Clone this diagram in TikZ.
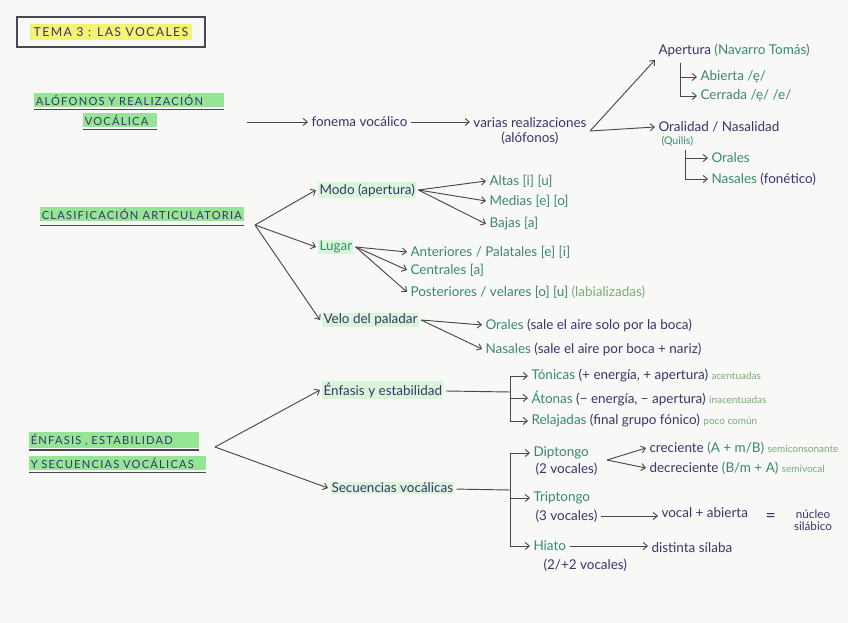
\documentclass[tikz,border=0pt]{standalone}
\usepackage{fontspec}
\setmainfont{Lato}
\newfontfamily\capsfont[LetterSpace=11]{Lato}
\usepackage{xcolor}
\usetikzlibrary{arrows.meta, positioning}
\definecolor{ink}{RGB}{58,52,108}
\definecolor{leaf}{RGB}{58,138,108}
\definecolor{pale}{RGB}{120,172,118}
\definecolor{marker}{RGB}{150,228,150}
\definecolor{lemon}{RGB}{246,242,118}
\definecolor{paper}{RGB}{248,248,246}
\definecolor{pen}{RGB}{72,72,80}
\newcommand{\note}[1]{{\color{pale}\fontsize{8.5}{10}\selectfont #1}}
\newcommand{\lf}[1]{{\color{leaf}#1}}

\begin{document}
\begin{tikzpicture}[x=0.03cm, y=-0.03cm,
      every node/.style={font=\fontsize{11.5}{13}\selectfont, text=ink, inner sep=1pt, outer sep=2pt},
      head/.style={fill=marker, font=\capsfont\fontsize{9.5}{11}\selectfont, inner sep=1.5pt, outer sep=0pt, anchor=west},
      t/.style={anchor=west},
      g/.style={anchor=west, text=leaf},
      soft/.style={fill=marker!35},
      arr/.style={draw=pen, line width=0.8pt, -{Straight Barb[length=3.5pt, width=6pt]}},
      ln/.style={draw=pen, line width=0.8pt},
      uline/.style={draw=pen, line width=1pt}]
    \fill[paper] (0,0) rectangle (848,623);
    \useasboundingbox (0,0) rectangle (848,623);

    \node[draw=pen, line width=1.2pt, minimum width=5.64cm, minimum height=0.9cm, anchor=north west, outer sep=0pt]
      (tema) at (17,17) {\colorbox{lemon}{\capsfont\fontsize{10.5}{12}\selectfont TEMA 3 : LAS VOCALES}};

    \node[head, text width=5.6cm, align=left] (alo1) at (34,100) {ALÓFONOS Y REALIZACIÓN};
    \node[head, text width=2.1cm, align=left] (alo2) at (83,120) {VOCÁLICA};
    \draw[uline] ([yshift=-2pt]alo1.south west) -- ([yshift=-2pt]alo1.south east);
    \draw[uline] ([yshift=-2pt]alo2.south west) -- ([yshift=-2pt]alo2.south east);
    \coordinate (alox) at (247,122);
    \node[t] (fon) at (308,122) {fonema vocálico};
    \node[align=center] (var) at (530,131) {varias realizaciones\\(alófonos)};
    \draw[arr] (alox) -- (fon);
    \draw[arr] (fon) -- (fon -| var.west);

    \node[t] (ape) at (655,50) {Apertura \lf{(Navarro Tomás)}};
    \node[g] (abi) at (697,77) {Abierta /ę/};
    \node[g] (cer) at (697,96) {Cerrada /ẹ/ /e/};
    \coordinate (apj) at (680,63);
    \draw[arr] (var.east) -- (ape.south west);
    \draw[arr] (apj) |- (abi.west);
    \draw[arr] (apj) |- (cer.west);

    \node[t] (ora) at (655,127) {Oralidad / Nasalidad};
    \node[g, font=\fontsize{9}{10}\selectfont] (qui) at (658,141) {(Quilis)};
    \node[g] (or1) at (708,158) {Orales};
    \node[g] (na1) at (708,179) {Nasales \textcolor{ink}{(fonético)}};
    \coordinate (orj) at (685,150);
    \draw[arr] (var.east) -- (ora.west);
    \draw[arr] (orj) |- (or1.west);
    \draw[arr] (orj) |- (na1.west);

    \node[head] (cla) at (40,214) {CLASIFICACIÓN ARTICULATORIA};
    \draw[uline] ([yshift=-4pt]cla.south west) -- ([yshift=-4pt]cla.south east);
    \coordinate (clax) at (255,225);
    \node[t, soft] (modo) at (316,190) {Modo (apertura)};
    \node[t, soft, text=leaf] (lug) at (316,247) {Lugar};
    \node[t, soft] (velo) at (320,320) {Velo del paladar};
    \draw[arr] (clax) -- (modo.west);
    \draw[arr] (clax) -- (lug.west);
    \draw[arr] (clax) -- (velo.west);

    \node[g] (alt) at (486,181) {Altas [i] [u]};
    \node[g] (med) at (486,201) {Medias [e] [o]};
    \node[g] (baj) at (486,224) {Bajas [a]};
    \draw[arr] (modo.east) -- (alt.west);
    \draw[arr] (modo.east) -- (med.west);
    \draw[arr] (modo.east) -- (baj.west);

    \node[g] (ant) at (407,252) {Anteriores / Palatales [e] [i]};
    \node[g] (cen) at (407,270) {Centrales [a]};
    \node[g] (pos) at (407,292) {Posteriores / velares [o] [u] \textcolor{pale}{(labializadas)}};
    \draw[arr] (lug.east) -- (ant.west);
    \draw[arr] (lug.east) -- (cen.west);
    \draw[arr] (lug.east) -- (pos.west);

    \node[g] (vor) at (482,325) {Orales \textcolor{ink}{(sale el aire solo por la boca)}};
    \node[g] (vna) at (482,349) {Nasales \textcolor{ink}{(sale el aire por boca + nariz)}};
    \draw[arr] (velo.east) -- (vor.west);
    \draw[arr] (velo.east) -- (vna.west);

    \node[head, text width=5cm, align=left] (enf1) at (29,440) {ÉNFASIS , ESTABILIDAD};
    \node[head, text width=5.2cm, align=left] (enf2) at (29,463) {Y SECUENCIAS VOCÁLICAS};
    \draw[uline] ([yshift=-2pt]enf1.south west) -- ([yshift=-2pt]enf1.south east);
    \draw[uline] ([yshift=-2pt]enf2.south west) -- ([yshift=-2pt]enf2.south east);
    \coordinate (enfx) at (215,447);
    \node[t, soft] (efs) at (320,390) {Énfasis y estabilidad};
    \node[t, soft] (sec) at (328,488) {Secuencias vocálicas};
    \draw[arr] (enfx) -- (efs.west);
    \draw[arr] (enfx) -- (sec.west);

    \node[t] (ton) at (528,376) {\lf{Tónicas} (+ energía, + apertura) \note{acentuadas}};
    \node[t] (ato) at (528,398) {\lf{Átonas} (− energía, − apertura) \note{inacentuadas}};
    \node[t] (rel) at (528,421) {\lf{Relajadas} (final grupo fónico) \note{poco común}};
    \coordinate (efsj) at (510,392);
    \draw[ln] (efs) -- (efsj);
    \draw[arr] (efsj) |- (ton.west);
    \draw[arr] (efsj) |- (ato.west);
    \draw[arr] (efsj) |- (rel.west);

    \node[g] (dip) at (530,453) {Diptongo};
    \node[t] (dipn) at (532,469) {(2 vocales)};
    \node[g] (tri) at (530,498) {Triptongo};
    \node[t] (trin) at (532,516) {(3 vocales)};
    \node[g] (hia) at (530,546) {Hiato};
    \node[t] (hian) at (540,565) {(2/+2 vocales)};
    \coordinate (secj) at (510,490);
    \draw[ln] (sec) -- (secj);
    \draw[arr] (secj) |- (dip.west);
    \draw[arr] (secj) |- (tri.west);
    \draw[arr] (secj) |- (hia.west);

    \node[t] (cre) at (646,448) {creciente \lf{(A + m/B)} \note{semiconsonante}};
    \node[t] (dec) at (646,468) {decreciente \lf{(B/m + A)} \note{semivocal}};
    \coordinate (dipx) at (607,460);
    \draw[arr] (dipx) -- (cre.west);
    \draw[arr] (dipx) -- (dec.west);

    \node[t] (voc) at (658,513) {vocal + abierta};
    \node[t, font=\fontsize{15}{16}\selectfont] (eq) at (762,518) {=};
    \node[align=center, font=\fontsize{10}{10.5}\selectfont] (nuc) at (813,520) {núcleo\\silábico};
    \draw[arr] (trin.east) -- (trin.east -| voc.west);

    \node[t] (dis) at (648,548) {distinta sílaba};
    \draw[arr] (hia) -- (hia -| dis.west);
\end{tikzpicture}
\end{document}
